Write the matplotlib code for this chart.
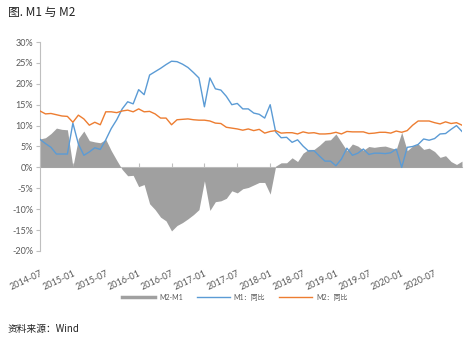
import matplotlib
matplotlib.use("Agg")
import matplotlib.pyplot as plt
from matplotlib.lines import Line2D
import numpy as np

plt.rcParams['font.family'] = ['Lato', 'Noto Sans CJK SC', 'DejaVu Sans']

# Monthly YoY growth, 2014-07 .. 2020-12 (%)
m1_yoy = [
    6.7, 5.7, 4.8, 3.2, 3.2, 3.2,
    10.6, 5.6, 2.9, 3.7, 4.7, 4.3, 6.6, 9.3, 11.4, 14.0, 15.7, 15.2,
    18.6, 17.4, 22.1, 22.9, 23.7, 24.6, 25.4, 25.3, 24.7, 23.9, 22.7, 21.4,
    14.5, 21.4, 18.8, 18.5, 17.0, 15.0, 15.3, 14.0, 14.0, 13.0, 12.7, 11.8,
    15.0, 8.5, 7.1, 7.2, 6.0, 6.6, 5.1, 3.9, 4.0, 2.7, 1.5, 1.5,
    0.4, 2.0, 4.6, 2.9, 3.4, 4.4, 3.1, 3.4, 3.4, 3.3, 3.5, 4.4,
    0.0, 4.8, 5.0, 5.5, 6.8, 6.5, 6.9, 8.0, 8.1, 9.1, 10.0, 8.6,
]
m2_yoy = [
    13.5, 12.8, 12.9, 12.6, 12.3, 12.2,
    10.8, 12.5, 11.6, 10.1, 10.8, 10.2, 13.3, 13.3, 13.1, 13.5, 13.7, 13.3,
    14.0, 13.3, 13.4, 12.8, 11.8, 11.8, 10.2, 11.4, 11.5, 11.6, 11.4, 11.3,
    11.3, 11.1, 10.6, 10.5, 9.6, 9.4, 9.2, 8.9, 9.2, 8.8, 9.1, 8.2,
    8.6, 8.8, 8.2, 8.3, 8.3, 8.0, 8.5, 8.2, 8.3, 8.0, 8.0, 8.1,
    8.4, 8.0, 8.6, 8.5, 8.5, 8.5, 8.1, 8.2, 8.4, 8.4, 8.2, 8.7,
    8.4, 8.8, 10.1, 11.1, 11.1, 11.1, 10.7, 10.4, 10.9, 10.5, 10.7, 10.1,
]
tick_labels = ['2014-07', '2015-01', '2015-07', '2016-01', '2016-07', '2017-01',
               '2017-07', '2018-01', '2018-07', '2019-01', '2019-07', '2020-01',
               '2020-07']
y_ticks = [30, 25, 20, 15, 10, 5, 0, -5, -10, -15, -20]

m1 = np.array(m1_yoy)
m2 = np.array(m2_yoy)
spread = m2 - m1
x = np.arange(len(m1))

BLUE = '#5B9BD5'
ORANGE = '#ED7D31'
GRAY = '#A0A0A0'
AXIS = '#BFBFBF'
TXT = '#595959'

fig = plt.figure(figsize=(4.77, 3.39), dpi=100)
ax = fig.add_axes([40 / 477, 88 / 339, 422 / 477, 209 / 339])

ax.fill_between(x, spread, 0, color=GRAY, linewidth=0, zorder=2)
ax.plot(x, m1, color=BLUE, linewidth=1.0, zorder=3)
ax.plot(x, m2, color=ORANGE, linewidth=1.0, zorder=3)

ax.set_xlim(0, len(m1) - 1)
ax.set_ylim(-20, 30)

for s in ['top', 'right', 'bottom']:
    ax.spines[s].set_visible(False)
ax.spines['left'].set_color(AXIS)
ax.spines['left'].set_linewidth(0.8)

ax.set_yticks(y_ticks, [f'{v}%' for v in y_ticks])
ax.tick_params(axis='y', colors=AXIS, length=3, width=0.8, labelcolor=TXT,
               labelsize=6.5, pad=2)

tick_pos = np.arange(0, len(m1), 6)[:len(tick_labels)]
ax.set_xticks(tick_pos, tick_labels, rotation=25, ha='right',
              rotation_mode='anchor')
ax.tick_params(axis='x', length=0, labelcolor=TXT, labelsize=6.5, pad=13)

# zero line carrying the category ticks
zero = ax.secondary_xaxis(20 / 50)
zero.set_xticks(tick_pos)
zero.tick_params(axis='x', direction='in', length=3, width=0.8, colors=AXIS,
                 labelbottom=False, labeltop=False)
zero.spines['bottom'].set_color(AXIS)
zero.spines['bottom'].set_linewidth(0.8)
zero.spines['top'].set_visible(False)

handles = [
    Line2D([], [], color=GRAY, linewidth=2.5),
    Line2D([], [], color=BLUE, linewidth=1.0),
    Line2D([], [], color=ORANGE, linewidth=1.0),
]
fig.legend(handles, ['M2-M1', 'M1：同比', 'M2：同比'], loc='center',
           bbox_to_anchor=(235 / 477, 1 - 297 / 339), ncol=3, frameon=False,
           fontsize=5, handlelength=4.7, columnspacing=2.0, handletextpad=0.6,
           labelcolor=TXT)

fig.text(8 / 477, 1 - 12 / 339, '图. M1 与 M2', fontsize=8.5, va='center',
         ha='left', color='#222222', family=['Noto Sans CJK SC', 'DejaVu Sans'])
fig.text(8 / 477, 1 - 329 / 339, '资料来源：Wind', fontsize=7, va='center',
         ha='left', color='#222222', family=['Noto Sans CJK SC', 'DejaVu Sans'])

fig.savefig('out.png', dpi=100)
